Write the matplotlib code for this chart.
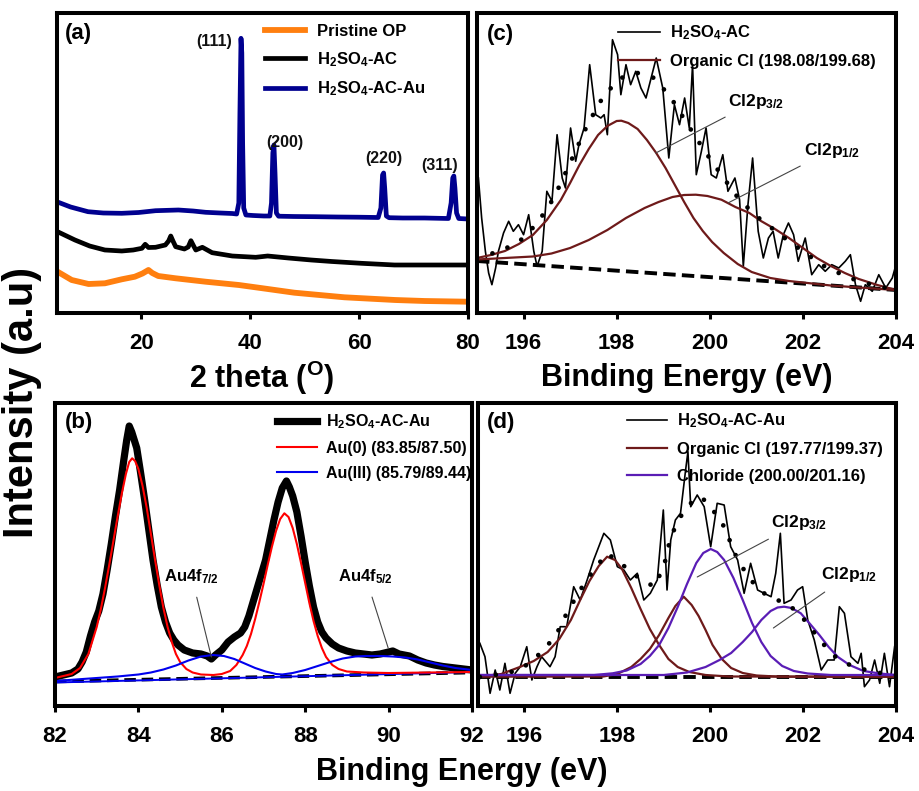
import matplotlib
matplotlib.use("Agg")
import matplotlib.pyplot as plt

plt.rcParams['mathtext.fontset'] = 'custom'
plt.rcParams['mathtext.rm'] = 'Liberation Sans:bold'
plt.rcParams['mathtext.bf'] = 'Liberation Sans:bold'
plt.rcParams['mathtext.it'] = 'Liberation Sans:bold:italic'
plt.rcParams['font.family'] = ['Liberation Sans', 'DejaVu Sans']

BOLD = ['Liberation Sans', 'DejaVu Sans']

# ---------------- (a) XRD ----------------
xrd_x_au = [4.6, 7, 10.2, 13, 16.4, 19.5, 22.6, 26.8, 29.5, 31.8, 34.5, 36.7, 37.5, 37.9, 38.1, 38.3,
            38.45, 38.6, 38.8, 39.2, 40.5, 42.5, 43.6, 43.9, 44.15, 44.35, 44.55, 44.8, 45.2, 48, 52,
            56, 60, 63.5, 64.0, 64.3, 64.5, 64.7, 65.0, 65.5, 68, 72, 76.4, 76.9, 77.2, 77.4, 77.6,
            77.9, 78.3, 80]
xrd_y_au = [111, 106, 101.3, 100, 99.7, 100.5, 102.3, 103, 102, 100.7, 100, 99.5, 99, 110, 200, 274.7,
            260, 170, 105, 98, 97.5, 97, 97, 110, 160, 168, 140, 100, 96.8, 96.5, 96.3,
            96, 95.8, 95.5, 105, 138, 140, 125, 97, 95.3, 95, 95, 94.5, 110, 135, 137, 125,
            100, 94.5, 94]
xrd_x_ac = [4.6, 7.8, 10.5, 13.3, 16.4, 18.5, 20.1, 20.7, 21.3, 22.6, 24.4, 25.0, 25.4, 25.8, 26.3,
            27.9, 28.6, 29.1, 29.6, 30.0, 31.2, 33.0, 36.7, 41.0, 43.2, 47, 51.2, 55, 60.4, 66.5, 72, 80]
xrd_y_ac = [81.3, 73, 67, 63, 62, 63, 64.7, 68.7, 65.5, 65.7, 68, 72, 77, 72, 66.3,
            64, 66, 72.3, 67, 63, 65.7, 60.3, 57, 55.7, 57, 55, 53, 51.5, 49.7, 48, 48, 48]
xrd_x_op = [4.6, 7.2, 10.3, 13.3, 16.4, 18.8, 20.2, 21.3, 22.0, 23.1, 26.3, 31.8, 37.9, 42.3, 48.1,
            57.3, 66.6, 72, 79.8]
xrd_y_op = [41.3, 33, 29, 29.7, 33.7, 36.3, 39.5, 43, 40, 37, 34.7, 31.3, 28, 24.7, 20.3,
            15.7, 13, 12, 11.3]
hkl_labels = ['(111)', '(200)', '(220)', '(311)']
hkl_x = [33.3, 46.4, 64.6, 74.7]
hkl_y = [272, 171, 155, 148]
a_ticks = [20, 40, 60, 80]

# ---------------- (b) Au 4f ----------------
b_x = [82.0, 82.2, 82.4, 82.55, 82.65, 82.75, 82.85, 82.95, 83.05, 83.15, 83.25, 83.35, 83.45, 83.55,
       83.65, 83.72, 83.78, 83.84, 83.9, 83.96, 84.05, 84.15, 84.25, 84.35, 84.45, 84.55, 84.65,
       84.75, 84.85, 84.95, 85.1, 85.3, 85.5, 85.65, 85.75, 85.85, 86.0, 86.15, 86.3, 86.45, 86.55,
       86.65, 86.75, 86.85, 86.95, 87.05, 87.15, 87.25, 87.35, 87.45, 87.55, 87.62, 87.7, 87.8,
       87.9, 88.0, 88.1, 88.2, 88.3, 88.4, 88.5, 88.65, 88.8, 89.0, 89.2, 89.4, 89.6, 89.8, 90.0,
       90.1, 90.25, 90.5, 90.7, 90.9, 91.1, 91.3, 91.6, 92.0]
b_y = [35, 37, 39, 43, 50, 60, 76, 90, 101, 118, 142, 168, 196, 222,
       252, 272, 286, 280, 272, 264, 240, 212, 182, 152, 127, 105, 90,
       79, 72, 67, 62, 59, 58, 56, 53, 57, 62, 70, 75, 79, 85,
       96, 110, 124, 138, 152, 172, 192, 210, 224, 231, 225, 216, 200,
       176, 150, 126, 105, 90, 80, 74, 68, 64, 61, 59, 58, 57, 58, 60,
       61, 58, 56, 52, 49, 47, 45.5, 44, 42]
au0_x = [82.0, 82.2, 82.4, 82.6, 82.8, 83.0, 83.1, 83.2, 83.3, 83.4, 83.5, 83.6, 83.7, 83.78, 83.85,
         83.92, 84.0, 84.1, 84.2, 84.3, 84.4, 84.5, 84.6, 84.7, 84.8, 84.9, 85.0, 85.15, 85.3, 85.5,
         85.8, 86.0, 86.2, 86.35, 86.5, 86.6, 86.7, 86.8, 86.9, 87.0, 87.1, 87.2, 87.3, 87.4, 87.5,
         87.6, 87.7, 87.8, 87.9, 88.0, 88.1, 88.2, 88.3, 88.4, 88.5, 88.65, 88.8, 89.0, 89.4, 90,
         91, 92]
au0_y = [34, 36, 38, 44, 58, 85, 103, 124, 147, 171, 195, 218, 238, 250, 253.7,
         251, 243, 226, 204, 178, 152, 127, 104, 85, 70, 58, 50, 43, 39.5, 37.5,
         37, 38, 41, 47, 57, 66, 78, 93, 110, 128, 147, 165, 181, 193, 198.7,
         195, 184, 168, 149, 129, 109, 91, 76, 64, 55, 47, 43, 40.5, 39.5, 39,
         39.5, 40]
au3_x = [82, 82.5, 83, 83.5, 84, 84.3, 84.6, 84.9, 85.2, 85.5, 85.79, 86.05, 86.3, 86.55, 86.8, 87.05,
         87.3, 87.45, 87.7, 88.0, 88.3, 88.6, 88.9, 89.2, 89.44, 89.8, 90.1, 90.4, 90.7, 91.0, 91.3,
         91.6, 92.0]
au3_y = [31, 32.5, 34, 35.5, 37.5, 39.5, 42.5, 46.5, 51.5, 55.5, 57, 56, 53, 48.5, 44, 40.5,
         38, 37.5, 39, 42, 46, 50, 53.5, 55.5, 56, 56, 55.5, 54.5, 52.5, 49.5, 46.5,
         44, 42]
b_bg_x = [82, 92]
b_bg_y = [30.5, 39.5]
b_bg2_y = [29.5, 40]
b_ticks = [82, 84, 86, 88, 90, 92]

# ---------------- (c) Cl 2p, H2SO4-AC ----------------
c_x = [195.03, 195.10, 195.18, 195.25, 195.32, 195.40, 195.46, 195.57, 195.68, 195.78, 195.89, 196.0,
       196.11, 196.22, 196.29, 196.4, 196.5, 196.61, 196.72, 196.83, 196.9, 197.01, 197.12, 197.19,
       197.3, 197.42, 197.55, 197.66, 197.73, 197.8, 197.91, 198.02, 198.09, 198.2, 198.3, 198.41,
       198.52, 198.63, 198.74, 198.85, 198.99, 199.12, 199.24, 199.35, 199.46, 199.56, 199.63,
       199.71, 199.82, 199.92, 200.03, 200.14, 200.28, 200.39, 200.54, 200.64, 200.72, 200.82,
       200.92, 201.04, 201.15, 201.26, 201.36, 201.47, 201.58, 201.69, 201.8, 201.9, 202.05,
       202.19, 202.34, 202.48, 202.62, 202.77, 202.91, 203.02, 203.13, 203.24, 203.34, 203.49,
       203.63, 203.78, 203.92, 204.0]
c_y = [135, 95, 61.7, 40, 28.3, 45, 61.7, 80, 91.7, 81.7, 88.3, 78.3,
       98.3, 61.7, 46.7, 61.7, 121.7, 111.7, 178.3, 135, 125, 185, 151.7, 168.3,
       185, 248.3, 198.3, 195, 198.3, 178.3, 273.3, 258.3, 218.3, 248.3, 228.3, 241.7,
       225, 215, 235, 255, 225, 155, 208.3, 188.3, 215, 185, 248.3,
       138.3, 161.7, 185, 138.3, 135, 158.3, 121.7, 135, 113.3, 46.7, 108.3,
       155, 81.7, 55, 75, 81.7, 55, 78.3, 90, 78.3, 51.7, 75,
       38.3, 48.3, 41.7, 48.3, 45, 51.7, 58.3, 28.3, 11.7, 28.3, 21.7,
       38.3, 25, 35, 48.3]
c_p32_x = [195.0, 195.3, 195.6, 195.9, 196.2, 196.5, 196.8, 197.0, 197.2, 197.4, 197.6, 197.8, 198.0,
           198.1, 198.25, 198.45, 198.65, 198.85, 199.05, 199.25, 199.45, 199.65, 199.85, 200.05,
           200.3, 200.6, 200.9, 201.3, 201.7, 202.1, 202.6, 203.2, 204.0]
c_p32_y = [55, 58, 62, 69, 78, 93, 113, 130, 148, 164, 178, 187, 192,
           192.3, 190, 184, 173, 160, 145, 128, 111, 95, 82, 71,
           60, 49, 41, 35, 32, 30, 27.5, 25.5, 23]
c_p12_x = [195.0, 195.6, 196.2, 196.6, 197.0, 197.4, 197.8, 198.2, 198.6, 198.9, 199.2, 199.45, 199.7,
           199.95, 200.25, 200.55, 200.85, 201.1, 201.4, 201.7, 202.0, 202.3, 202.6, 202.9, 203.2,
           203.6, 204.0]
c_p12_y = [53.5, 55, 56.5, 59.5, 65, 73, 83, 95, 105, 111, 116, 118, 118.3,
           117, 113.3, 106, 100, 92, 84, 75, 65, 55, 47, 40, 34,
           28, 23]
c_env_x = [195.0, 195.5, 195.9, 196.3, 196.65, 197.0, 197.37, 197.73, 198.09, 198.45, 198.81, 199.17,
           199.53, 199.89, 200.25, 200.61, 200.97, 201.33, 201.69, 202.05, 202.41, 202.77, 203.13,
           203.5, 204.0]
c_env_y = [55, 62, 71, 90, 115, 150, 188, 218, 235, 240, 235, 215,
           188, 162, 138, 115, 98, 85, 72, 60, 48, 40, 33,
           28, 23]
c_bg_x = [195, 204]
c_bg_y = [52, 23]
cd_ticks = [196, 198, 200, 202, 204]

# ---------------- (d) Cl 2p, H2SO4-AC-Au ----------------
d_x = [195.04, 195.15, 195.26, 195.37, 195.47, 195.58, 195.69, 195.8, 195.91, 196.05, 196.16, 196.27,
       196.37, 196.55, 196.66, 196.77, 196.91, 197.06, 197.2, 197.35, 197.49, 197.6, 197.71, 197.85,
       198.0, 198.14, 198.28, 198.43, 198.5, 198.57, 198.71, 198.86, 198.99, 199.07, 199.15, 199.25,
       199.36, 199.47, 199.52, 199.58, 199.72, 199.87, 200.01, 200.15, 200.3, 200.44, 200.59, 200.73,
       200.87, 201.02, 201.16, 201.31, 201.41, 201.51, 201.59, 201.74, 201.88, 201.99, 202.1, 202.24,
       202.39, 202.53, 202.67, 202.78, 202.89, 203.03, 203.18, 203.25, 203.32, 203.43, 203.54,
       203.65, 203.75, 203.86, 203.97]
d_y = [68.7, 55.3, 18.7, 42, 22, 48.7, 18.7, 38.7, 45.3, 65.3, 32, 45.3,
       55.3, 45.3, 55.3, 85.3, 85.3, 125.3, 112, 132, 152, 165.3, 178.7, 172,
       145.3, 142, 132, 138.7, 125.3, 112, 118.7, 132, 202, 122, 172, 192,
       198.7, 242, 260.3, 205.3, 217, 205.3, 165.3, 208.7, 207, 165.3, 152, 118.7,
       148.7, 122, 118.7, 115.3, 138.7, 178.7, 108.7, 112, 122, 125.3, 92, 72,
       42, 52, 52, 105.3, 98.7, 55.3, 48.7, 58.7, 25.3, 32, 52,
       28.7, 58.7, 25.3, 65.3]
d_org1_x = [195.0, 195.5, 195.9, 196.2, 196.5, 196.75, 197.0, 197.2, 197.4, 197.6, 197.78, 197.95,
            198.1, 198.3, 198.5, 198.7, 198.9, 199.1, 199.3, 199.55, 199.9, 200.4, 204.0]
d_org1_y = [35.3, 38, 45, 51, 60, 73, 92, 112, 131, 146, 155.3, 152,
            143, 124, 103, 83, 67, 53, 45, 40, 37, 35.5, 35.3]
d_org2_x = [195.0, 197.7, 198.0, 198.3, 198.5, 198.7, 198.9, 199.1, 199.25, 199.43, 199.6, 199.75,
            199.9, 200.05, 200.25, 200.45, 200.7, 201.0, 201.5, 204.0]
d_org2_y = [35.3, 35.5, 38, 45, 53, 63, 77, 94, 106, 115.3, 107, 96,
            82, 67, 53, 44, 39, 36.5, 35.3, 35.3]
d_chl1_x = [195.0, 197.5, 197.9, 198.2, 198.5, 198.7, 198.9, 199.1, 199.3, 199.5, 199.7, 199.85,
            200.01, 200.15, 200.3, 200.5, 200.7, 200.9, 201.1, 201.3, 201.55, 201.8, 202.1, 202.6,
            204.0]
d_chl1_y = [37, 37, 38.7, 41.5, 48, 56, 67, 84, 105, 128, 149, 159,
            163, 160, 152, 134, 112, 89, 70, 56, 46, 41, 38.5, 37,
            37]
d_chl2_x = [195.0, 199.0, 199.5, 199.9, 200.2, 200.45, 200.7, 200.9, 201.1, 201.3, 201.45, 201.59,
            201.75, 201.95, 202.15, 202.35, 202.55, 202.75, 203.0, 203.3, 203.65, 204.0]
d_chl2_y = [37, 37, 39.5, 45, 52, 59, 70, 80, 92, 101, 104.5, 105.3,
            104, 98.7, 88, 77, 65, 55, 47, 41, 38.5, 37]
d_env_x = [195.04, 195.5, 195.91, 196.41, 196.7, 196.91, 197.2, 197.49, 197.78, 198.07, 198.43, 198.79,
           199.0, 199.15, 199.36, 199.58, 199.8, 200.01, 200.3, 200.59, 200.87, 201.16, 201.45,
           201.74, 202.03, 202.31, 202.6, 202.85, 203.11, 203.5, 204.0]
d_env_y = [35, 38, 42, 61.3, 78.7, 98.7, 122, 142, 158.7, 148.7, 135.3, 125.3,
           145, 175.3, 195.3, 208.7, 215.3, 205.3, 185.3, 152, 132, 118.7, 112,
           105.3, 92, 75.3, 58.7, 50, 45.3, 40, 37]
d_bg_x = [195, 204]
d_bg_y = [35.3, 35.3]

# ---------------- colours ----------------
C_OP = '#FF7F0F'
C_AC = '#000000'
C_AU = '#00008F'
C_RED = '#FF0000'
C_BLUE = '#0000EE'
C_BROWN = '#6E1A1A'
C_PURPLE = '#5A1DB5'

W, H = 919, 791
fig = plt.figure(figsize=(W / 100, H / 100), dpi=100)


def add_ax(l, t, r, b):
    return fig.add_axes([l / W, 1 - b / H, (r - l) / W, (b - t) / H])


def style(ax, xlim, ylim, ticks):
    ax.set_xlim(xlim)
    ax.set_ylim(ylim)
    ax.set_xticks(ticks, labels=[str(t) for t in ticks], fontfamily=BOLD,
                  fontweight='bold', fontsize=16)
    ax.set_yticks([])
    for s in ax.spines.values():
        s.set_linewidth(2.9)
    ax.tick_params(axis='x', direction='out', length=4.5, width=2.2, pad=10)


dots = (0, (0.01, 3.4))
dash = (0, (3.2, 1.6))
LEG = dict(loc='upper left', frameon=False, borderpad=0, borderaxespad=0)
ARW = dict(arrowstyle='-', color='#444444', lw=0.8, shrinkA=6, shrinkB=0)

# (a)
axa = add_ax(57, 13, 468, 313)
axa.plot(xrd_x_op, xrd_y_op, color=C_OP, lw=4.2, label='Pristine OP')
axa.plot(xrd_x_ac, xrd_y_ac, color=C_AC, lw=3.4, label='H$_\\mathbf{2}$SO$_\\mathbf{4}$-AC')
axa.plot(xrd_x_au, xrd_y_au, color=C_AU, lw=3.4, label='H$_\\mathbf{2}$SO$_\\mathbf{4}$-AC-Au')
for lab, x, y in zip(hkl_labels, hkl_x, hkl_y):
    axa.text(x, y, lab, ha='center', va='center', fontsize=11.5, fontweight='bold', color='#111111')
style(axa, (4.5, 80), (0, 300), a_ticks)
axa.legend(bbox_to_anchor=(0.506, 0.963), handlelength=2.4, handletextpad=0.7, labelspacing=0.65,
           prop={'family': BOLD, 'weight': 'bold', 'size': 12}, **LEG)
axa.text(0.02, 0.933, '(a)', transform=axa.transAxes, fontsize=16, fontweight='bold',
         va='center', ha='left')

# (c)
axc = add_ax(477, 13, 896, 313)
axc.plot(c_bg_x, c_bg_y, color='black', lw=2.8, ls=dash)
axc.plot(c_x, c_y, color='black', lw=1.2, label='H$_\\mathbf{2}$SO$_\\mathbf{4}$-AC')
axc.plot(c_p32_x, c_p32_y, color=C_BROWN, lw=1.6, label='Organic Cl (198.08/199.68)')
axc.plot(c_p12_x, c_p12_y, color=C_BROWN, lw=1.6)
axc.plot(c_env_x, c_env_y, color='black', lw=3.4, ls=dots, dash_capstyle='round')
style(axc, (195, 204), (0, 300), cd_ticks)
axc.legend(bbox_to_anchor=(0.337, 0.965), handlelength=2.5, handletextpad=0.6, labelspacing=0.7,
           prop={'family': BOLD, 'weight': 'bold', 'size': 12}, **LEG)
axc.text(0.024, 0.93, '(c)', transform=axc.transAxes, fontsize=16, fontweight='bold',
         va='center', ha='left')
axc.annotate('Cl2p$_\\mathbf{3/2}$', xy=(198.84, 160), xytext=(201.0, 212), fontsize=12.5,
             fontweight='bold', ha='center', va='center', arrowprops=ARW)
axc.annotate('Cl2p$_\\mathbf{1/2}$', xy=(200.39, 110), xytext=(202.62, 163), fontsize=12.5,
             fontweight='bold', ha='center', va='center', arrowprops=ARW)

# (b)
axb = add_ax(55, 403, 472, 706)
axb.plot(b_bg_x, b_bg_y, color='black', lw=2.6, ls=dash)
axb.plot(b_bg_x, b_bg2_y, color=C_BLUE, lw=1.4)
axb.plot(b_x, b_y, color='black', lw=5.2, label='H$_\\mathbf{2}$SO$_\\mathbf{4}$-AC-Au')
axb.plot(au0_x, au0_y, color=C_RED, lw=1.5, label='Au(0) (83.85/87.50)')
axb.plot(au3_x, au3_y, color=C_BLUE, lw=1.5, label='Au(III) (85.79/89.44)')
style(axb, (82, 92), (6, 309), b_ticks)
axb.legend(bbox_to_anchor=(0.532, 0.968), handlelength=2.5, handletextpad=0.6, labelspacing=0.6,
           prop={'family': BOLD, 'weight': 'bold', 'size': 11.5}, **LEG)
axb.text(0.024, 0.934, '(b)', transform=axb.transAxes, fontsize=16, fontweight='bold',
         va='center', ha='left')
axb.annotate('Au4f$_\\mathbf{7/2}$', xy=(85.75, 55), xytext=(85.28, 135), fontsize=12,
             fontweight='bold', ha='center', va='center', arrowprops=ARW)
axb.annotate('Au4f$_\\mathbf{5/2}$', xy=(89.99, 64), xytext=(89.45, 135), fontsize=12,
             fontweight='bold', ha='center', va='center', arrowprops=ARW)

# (d)
axd = add_ax(478, 403, 896, 706)
axd.plot(d_bg_x, d_bg_y, color='black', lw=2.8, ls=dash)
axd.plot(d_x, d_y, color='black', lw=1.2, label='H$_\\mathbf{2}$SO$_\\mathbf{4}$-AC-Au')
axd.plot(d_org1_x, d_org1_y, color=C_BROWN, lw=1.6, label='Organic Cl (197.77/199.37)')
axd.plot(d_org2_x, d_org2_y, color=C_BROWN, lw=1.6)
axd.plot(d_chl1_x, d_chl1_y, color=C_PURPLE, lw=1.6, label='Chloride (200.00/201.16)')
axd.plot(d_chl2_x, d_chl2_y, color=C_PURPLE, lw=1.6)
axd.plot(d_env_x, d_env_y, color='black', lw=3.4, ls=dots, dash_capstyle='round')
style(axd, (195, 204), (6, 309), cd_ticks)
axd.legend(bbox_to_anchor=(0.356, 0.972), handlelength=2.4, handletextpad=0.6, labelspacing=0.7,
           prop={'family': BOLD, 'weight': 'bold', 'size': 12}, **LEG)
axd.text(0.022, 0.937, '(d)', transform=axd.transAxes, fontsize=16, fontweight='bold',
         va='center', ha='left')
axd.annotate('Cl2p$_\\mathbf{3/2}$', xy=(199.72, 135), xytext=(201.91, 189), fontsize=12.5,
             fontweight='bold', ha='center', va='center', arrowprops=ARW)
axd.annotate('Cl2p$_\\mathbf{1/2}$', xy=(201.36, 84), xytext=(202.99, 137), fontsize=12.5,
             fontweight='bold', ha='center', va='center', arrowprops=ARW)

# axis titles
fig.text(262 / W, 1 - 378 / H, '2 theta ($^\\mathbf{O}$)', ha='center', va='center',
         fontsize=22, fontweight='bold', family=BOLD)
fig.text(687 / W, 1 - 378 / H, 'Binding Energy (eV)', ha='center', va='center',
         fontsize=22, fontweight='bold', family=BOLD)
fig.text(462 / W, 1 - 772 / H, 'Binding Energy (eV)', ha='center', va='center',
         fontsize=22, fontweight='bold', family=BOLD)
fig.text(22 / W, 1 - 402 / H, 'Intensity (a.u)', ha='center', va='center', rotation=90,
         fontsize=30, fontweight='bold', family=BOLD)

fig.savefig('out.png', dpi=100)
